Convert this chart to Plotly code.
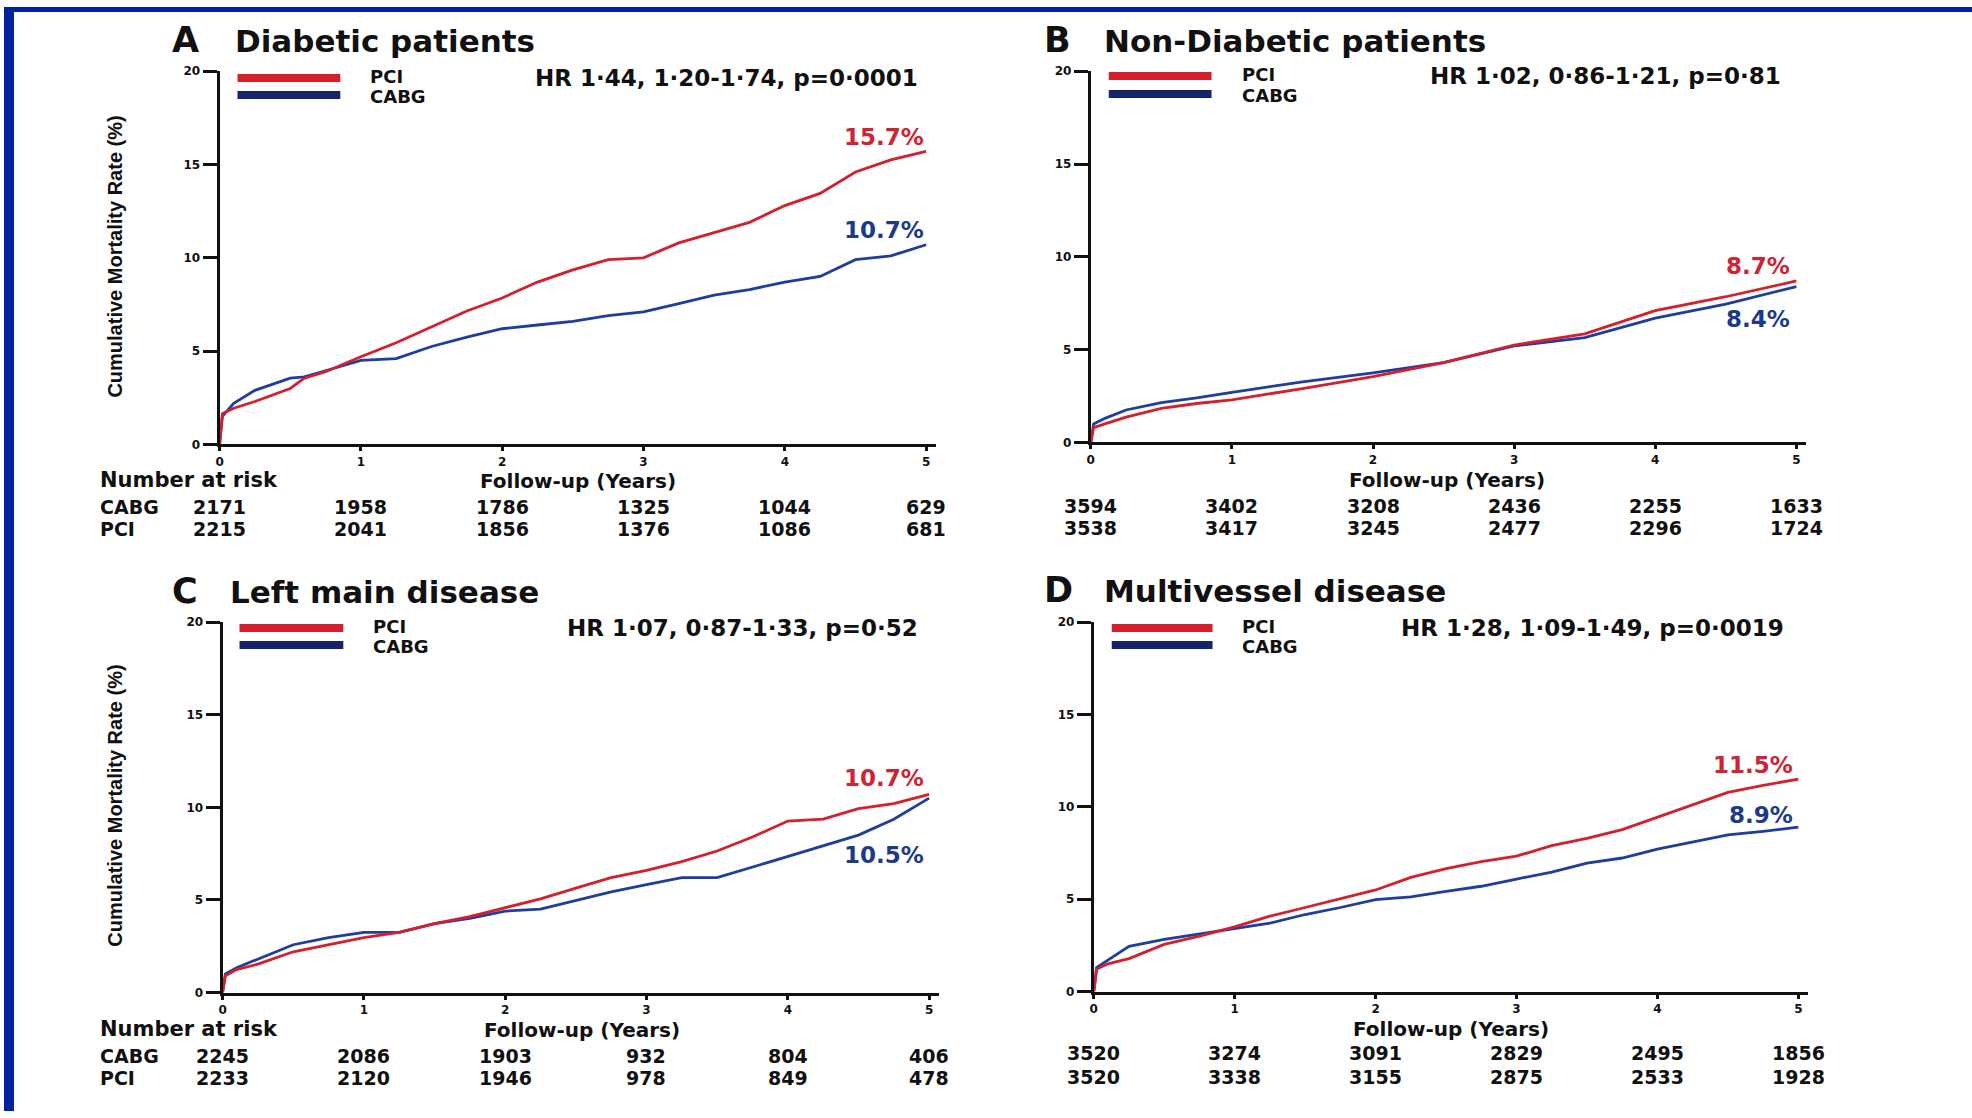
import plotly.graph_objects as go

W, H = 1972, 1118

# ---------------- data ----------------
# Panel A: Diabetic patients
a_t = [0, 0.02, 0.1, 0.25, 0.5, 0.6, 0.75, 1.0, 1.25, 1.5, 1.75, 2.0, 2.25, 2.5, 2.75,
       3.0, 3.25, 3.5, 3.75, 4.0, 4.25, 4.5, 4.75, 5.0]
a_pci = [0, 1.65, 1.94, 2.3, 3.0, 3.55, 3.9, 4.7, 5.45, 6.3, 7.15, 7.85, 8.7, 9.35, 9.9,
         10.0, 10.8, 11.35, 11.9, 12.8, 13.45, 14.6, 15.25, 15.7]
a_cabg = [0, 1.5, 2.2, 2.9, 3.55, 3.62, 3.95, 4.5, 4.6, 5.25, 5.75, 6.2, 6.4, 6.6, 6.9,
          7.1, 7.55, 8.0, 8.3, 8.7, 9.0, 9.9, 10.1, 10.7]

# Panel B: Non-Diabetic patients
b_t = [0, 0.02, 0.1, 0.25, 0.5, 0.75, 1.0, 1.5, 2.0, 2.5, 3.0, 3.5, 4.0, 4.5, 5.0]
b_pci = [0, 0.8, 1.0, 1.37, 1.84, 2.1, 2.3, 2.9, 3.55, 4.3, 5.25, 5.85, 7.1, 7.85, 8.7]
b_cabg = [0, 1.0, 1.3, 1.75, 2.15, 2.4, 2.7, 3.27, 3.75, 4.3, 5.2, 5.65, 6.7, 7.45, 8.4]

# Panel C: Left main disease
c_t = [0, 0.02, 0.1, 0.25, 0.5, 0.75, 1.0, 1.25, 1.5, 1.75, 2.0, 2.25, 2.5, 2.75,
       3.0, 3.25, 3.5, 3.75, 4.0, 4.25, 4.5, 4.75, 5.0]
c_pci = [0, 0.9, 1.24, 1.53, 2.2, 2.58, 2.96, 3.25, 3.72, 4.1, 4.6, 5.06, 5.64, 6.2,
         6.6, 7.07, 7.64, 8.4, 9.26, 9.36, 9.93, 10.2, 10.7]
c_cabg = [0, 1.0, 1.34, 1.8, 2.58, 2.96, 3.25, 3.25, 3.72, 4.0, 4.4, 4.5, 4.97, 5.44,
          5.83, 6.2, 6.2, 6.78, 7.35, 7.93, 8.5, 9.36, 10.5]

# Panel D: Multivessel disease
d_t = [0, 0.02, 0.1, 0.25, 0.5, 0.75, 1.0, 1.25, 1.5, 1.75, 2.0, 2.25, 2.5, 2.75,
       3.0, 3.25, 3.5, 3.75, 4.0, 4.25, 4.5, 4.75, 5.0]
d_pci = [0, 1.2, 1.5, 1.78, 2.55, 3.0, 3.5, 4.08, 4.55, 5.03, 5.5, 6.18, 6.66, 7.04,
         7.33, 7.9, 8.29, 8.77, 9.44, 10.1, 10.78, 11.16, 11.5]
d_cabg = [0, 1.3, 1.7, 2.45, 2.83, 3.12, 3.44, 3.7, 4.17, 4.55, 4.98, 5.13, 5.42, 5.7,
          6.09, 6.47, 6.95, 7.23, 7.71, 8.1, 8.48, 8.67, 8.9]

years = [0, 1, 2, 3, 4, 5]
y_ticks = [0, 5, 10, 15, 20]

a_risk_cabg = ["2171", "1958", "1786", "1325", "1044", "629"]
a_risk_pci = ["2215", "2041", "1856", "1376", "1086", "681"]
b_risk_cabg = ["3594", "3402", "3208", "2436", "2255", "1633"]
b_risk_pci = ["3538", "3417", "3245", "2477", "2296", "1724"]
c_risk_cabg = ["2245", "2086", "1903", "932", "804", "406"]
c_risk_pci = ["2233", "2120", "1946", "978", "849", "478"]
d_risk_cabg = ["3520", "3274", "3091", "2829", "2495", "1856"]
d_risk_pci = ["3520", "3338", "3155", "2875", "2533", "1928"]

letters = ["A", "B", "C", "D"]
titles = ["Diabetic patients", "Non-Diabetic patients", "Left main disease", "Multivessel disease"]
hr_texts = ["HR 1·44, 1·20-1·74, p=0·0001", "HR 1·02, 0·86-1·21, p=0·81",
            "HR 1·07, 0·87-1·33, p=0·52", "HR 1·28, 1·09-1·49, p=0·0019"]
end_pci = ["15.7%", "8.7%", "10.7%", "11.5%"]
end_cabg = ["10.7%", "8.4%", "10.5%", "8.9%"]

# ---------------- styling ----------------
RED = "#d3202c"
BLUE = "#1f3d9e"
NAVY = "#16246c"
LBL_RED = "#cf2436"
LBL_BLUE = "#1d3a8a"
INK = "#111111"
BORDER = "#0022a0"
FONT = "DejaVu Sans, Verdana, sans-serif"
YFONT = "Liberation Sans, Arial, sans-serif"

# panel pixel geometry: x of t=0, x of t=5, y of 0%, y of 20%
geom = [
    dict(x0=216, x5=924, yb=443, yt=65),
    dict(x0=1089, x5=1796, yb=441, yt=65),
    dict(x0=219, x5=927, yb=998, yt=623),
    dict(x0=1092, x5=1798, yb=997, yt=623),
]
XMAX = 5.07

def px(x):
    return x / W

def py(y):
    return 1 - y / H

panels = [
    (a_t, a_pci, a_cabg, a_risk_cabg, a_risk_pci),
    (b_t, b_pci, b_cabg, b_risk_cabg, b_risk_pci),
    (c_t, c_pci, c_cabg, c_risk_cabg, c_risk_pci),
    (d_t, d_pci, d_cabg, d_risk_cabg, d_risk_pci),
]

# text layout (pixels)
title_pos = [(166, 229, 33), (1040, 1100, 33), (166, 224, 591), (1040, 1100, 590)]
legend_pos = [  # bar x0, bar x1, text x, y pci, y cabg, hr right x
    (234, 337, 365, 72, 89, 918),
    (1107, 1210, 1239, 70, 88, 1783),
    (236, 340, 368, 629, 646, 918),
    (1110, 1211, 1239, 629, 646, 1786),
]
pct_pos = [(924, 132, 226), (1792, 262, 316), (924, 781, 859), (1795, 768, 818)]
risk_pos = [  # follow-up center x, follow-up y, row cabg y, row pci y
    (575, 480, 507, 528),
    (1446, 479, 506, 527),
    (579, 1036, 1063, 1084),
    (1450, 1035, 1060, 1083),
]

fig = go.Figure()
annotations = []
shapes = []

def note(x, y, text, size, color=INK, xanchor="left", xref="paper", family=FONT, angle=0):
    annotations.append(dict(x=x, y=y, xref=xref, yref="paper", xanchor=xanchor,
                            yanchor="middle", showarrow=False, text="<b>" + text + "</b>",
                            textangle=angle, font=dict(family=family, size=size, color=color)))

for i, (t, pci, cabg, rc, rp) in enumerate(panels):
    g = geom[i]
    k = "" if i == 0 else str(i + 1)
    xa, ya = "x" + k, "y" + k
    fig.add_trace(go.Scatter(x=t, y=cabg, mode="lines", line=dict(color=BLUE, width=2.8),
                             xaxis=xa, yaxis=ya, showlegend=False, name="CABG"))
    fig.add_trace(go.Scatter(x=t, y=pci, mode="lines", line=dict(color=RED, width=2.8),
                             xaxis=xa, yaxis=ya, showlegend=False, name="PCI"))
    x_end = g["x0"] + (g["x5"] - g["x0"]) * XMAX / 5
    axis_common = dict(showgrid=False, zeroline=False, showline=True, linecolor=INK,
                       linewidth=3, ticks="outside", tickcolor=INK, tickwidth=2.5,
                       tickfont=dict(family=FONT, size=12, color=INK, weight="bold"),
                       fixedrange=True)
    fig.update_layout(**{
        "xaxis" + k: dict(domain=[px(g["x0"]), px(x_end)], range=[0, XMAX],
                          tickvals=years, ticklen=4, anchor=ya, **axis_common),
        "yaxis" + k: dict(domain=[py(g["yb"]), py(g["yt"])], range=[0, 20],
                          tickvals=y_ticks, ticklen=14, anchor=xa, **axis_common),
    })

    # title
    lx, tx, ty = title_pos[i]
    note(px(lx), py(ty), letters[i], 35)
    note(px(tx), py(ty + 1), titles[i], 31)

    # legend
    bx0, bx1, ltx, yp, yc, hrx = legend_pos[i]
    shapes.append(dict(type="line", xref="paper", yref="paper", x0=px(bx0), x1=px(bx1),
                       y0=py(yp), y1=py(yp), line=dict(color=RED, width=8)))
    shapes.append(dict(type="line", xref="paper", yref="paper", x0=px(bx0), x1=px(bx1),
                       y0=py(yc), y1=py(yc), line=dict(color=NAVY, width=8)))
    note(px(ltx), py(yp - 2), "PCI", 18)
    note(px(ltx), py(yc + 2), "CABG", 18)
    note(px(hrx), py(yp), hr_texts[i], 23, xanchor="right")

    # end-point percentages
    rx, yr, yb2 = pct_pos[i]
    note(px(rx), py(yr), end_pci[i], 23, color=LBL_RED, xanchor="right")
    note(px(rx), py(yb2), end_cabg[i], 23, color=LBL_BLUE, xanchor="right")

    # follow-up label & numbers at risk
    fx, fy, rcy, rpy = risk_pos[i]
    note(px(fx), py(fy), "Follow-up (Years)", 20, xanchor="center")
    for vals, yy in ((rc, rcy - 1), (rp, rpy + 1)):
        for yr_, v in zip(years, vals):
            note(yr_, py(yy), v, 19, xanchor="center", xref=xa)
    if i in (0, 2):
        note(px(94), py(fy - 1), "Number at risk", 21)
        note(px(94), py(rcy - 1), "CABG", 19)
        note(px(94), py(rpy + 1), "PCI", 19)
        # y-axis title
        cy = 253 if i == 0 else 809
        note(px(111), py(cy), "Cumulative Mortality Rate (%)", 20, xanchor="center",
             family=YFONT, angle=-90)

# blue frame strips (left and top)
shapes.append(dict(type="rect", xref="paper", yref="paper", x0=0, x1=px(10), y0=0, y1=1,
                   fillcolor=BORDER, line=dict(width=0), layer="above"))
shapes.append(dict(type="rect", xref="paper", yref="paper", x0=0, x1=1, y0=py(5), y1=1,
                   fillcolor=BORDER, line=dict(width=0), layer="above"))

fig.update_layout(width=W, height=H, margin=dict(l=0, r=0, t=0, b=0),
                  paper_bgcolor="white", plot_bgcolor="white",
                  annotations=annotations, shapes=shapes, showlegend=False)

fig.write_html("out.html", config={"displayModeBar": False},
               post_script="document.body.style.margin='0';"
                           "document.body.style.padding='0';"
                           "document.body.style.overflow='hidden';")
